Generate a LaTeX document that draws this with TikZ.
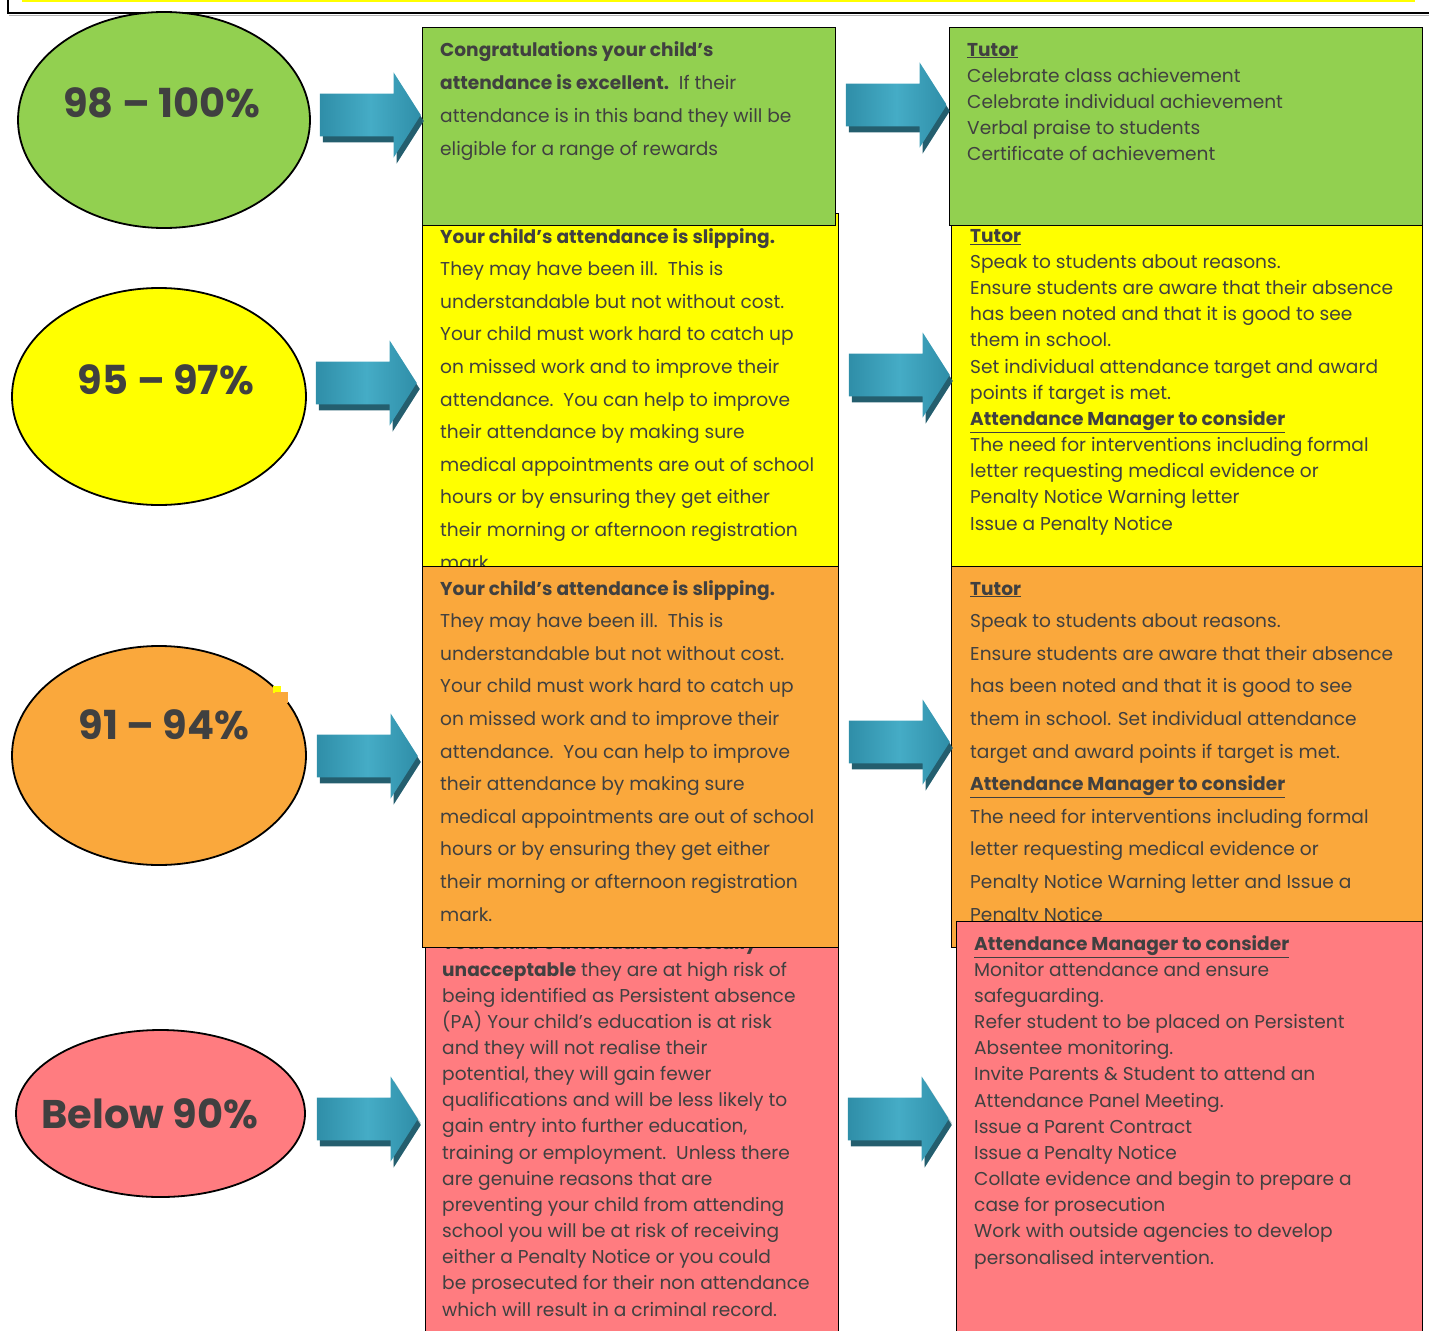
\documentclass[tikz,border=0pt]{standalone}
\usepackage{fontspec}
\setmainfont{Poppins}
\usetikzlibrary{shapes.geometric,shapes.arrows,shadows,positioning}

\definecolor{bandgreen}{HTML}{92D050}
\definecolor{bandyellow}{HTML}{FFFF00}
\definecolor{bandorange}{HTML}{FAA83C}
\definecolor{bandred}{HTML}{FF7C80}
\definecolor{inkgray}{HTML}{404040}
\definecolor{tealmid}{HTML}{45ACC6}
\definecolor{tealedge}{HTML}{2F8EA8}
\definecolor{tealshadow}{HTML}{245E6E}

\tikzset{
  bandbox/.style   = {rectangle, draw=black, line width=1.3pt,
                      anchor=north west, inner sep=0pt},
  rate/.style      = {ellipse, draw=black, line width=1.8pt, inner sep=0pt},
  ratetext/.style  = {anchor=base, inner sep=0pt, text=inkgray,
                      font=\fontsize{40}{48}\selectfont\bfseries},
  % anchor is the baseline of the last line
  note/.style      = {anchor=base west, align=left, inner sep=0pt, text=inkgray},
  notewide/.style  = {note, font=\fontsize{18.6}{32.6}\selectfont},
  notetight/.style = {note, font=\fontsize{18.6}{26.15}\selectfont},
  flowarrow/.style = {single arrow, anchor=tip, inner sep=0pt, inner ysep=21pt,
                      minimum height=101pt, minimum width=85pt,
                      single arrow head extend=21pt,
                      single arrow tip angle=115,
                      left color=tealedge, right color=tealedge, middle color=tealmid,
                      drop shadow={shadow xshift=3pt, shadow yshift=-6pt,
                                   fill=tealshadow, opacity=1}},
  softarrow/.style = {flowarrow,
                      drop shadow={shadow xshift=3pt, shadow yshift=-4pt,
                                   fill=tealshadow, opacity=.35}}
}
\newcommand{\headline}[1]{\underline{\textbf{#1}}}

\begin{document}
\begin{tikzpicture}[x=1pt, y=-1pt]
\useasboundingbox (0,0) rectangle (1429,1330);

% frame at the top
\fill[bandyellow] (22,-3) rectangle (1415,2);
\draw[gray!60, line width=1.5pt] (9,15.5) -- (1440,15.5);
\draw[black, line width=1.3pt] (8,-5) -- (8,13) -- (1440,13);

% attendance bands
\node[rate, fill=bandgreen,  minimum width=292pt, minimum height=216pt] (rate98) at (164,120) {};
\node[rate, fill=bandyellow, minimum width=294pt, minimum height=217pt] (rate95) at (159,396.5) {};
\node[rate, fill=bandorange, minimum width=294pt, minimum height=219pt] (rate91) at (159,755.5) {};
\node[rate, fill=bandred,    minimum width=289pt, minimum height=167pt] (rate90) at (160.5,1113.5) {};
\fill[bandyellow] (273,686) rectangle (281,693);
\fill[bandorange] (275,692) rectangle (288,703);

\node[ratetext] (rate98-text) at (162,117)  {98 -- 100\%};
\node[ratetext] (rate95-text) at (166,394)  {95 -- 97\%};
\node[ratetext] (rate91-text) at (164,739)  {91 -- 94\%};
\node[ratetext] (rate90-text) at (150,1128) {Below 90\%};

% left column: what it means
\node[bandbox, fill=bandyellow, minimum width=416pt, minimum height=353pt] (info95) at (422,213) {};
\node[notewide] (info95-text) at (440,569) {%
  \textbf{Your child’s attendance is slipping.}\\
  They may have been ill.\ \ This is\\
  understandable but not without cost.\\
  Your child must work hard to catch up\\
  on missed work and to improve their\\
  attendance.\ \ You can help to improve\\
  their attendance by making sure\\
  medical appointments are out of school\\
  hours or by ensuring they get either\\
  their morning or afternoon registration\\
  mark.};

\node[bandbox, fill=bandgreen, minimum width=413pt, minimum height=198pt] (info98) at (422,27) {};
\node[note, font=\fontsize{18.6}{33}\selectfont] (info98-text) at (440,155) {%
  \textbf{Congratulations your child’s}\\
  \textbf{attendance is excellent.}\ \ If their\\
  attendance is in this band they will be\\
  eligible for a range of rewards};

\node[bandbox, fill=bandred, minimum width=413pt, minimum height=400pt] (info90) at (425,940) {};
\node[notetight] (info90-text) at (442,1316) {%
  \textbf{Your child’s attendance is totally}\\
  \textbf{unacceptable} they are at high risk of\\
  being identified as Persistent absence\\
  (PA) Your child’s education is at risk\\
  and they will not realise their\\
  potential, they will gain fewer\\
  qualifications and will be less likely to\\
  gain entry into further education,\\
  training or employment.\ \ Unless there\\
  are genuine reasons that are\\
  preventing your child from attending\\
  school you will be at risk of receiving\\
  either a Penalty Notice or you could\\
  be prosecuted for their non attendance\\
  which will result in a criminal record.};

\node[bandbox, fill=bandorange, minimum width=416pt, minimum height=381pt] (info91) at (422,566) {};
\node[notewide] (info91-text) at (440,921) {%
  \textbf{Your child’s attendance is slipping.}\\
  They may have been ill.\ \ This is\\
  understandable but not without cost.\\
  Your child must work hard to catch up\\
  on missed work and to improve their\\
  attendance.\ \ You can help to improve\\
  their attendance by making sure\\
  medical appointments are out of school\\
  hours or by ensuring they get either\\
  their morning or afternoon registration\\
  mark.};

% right column: actions
\node[bandbox, fill=bandgreen, minimum width=473pt, minimum height=198pt] (act98) at (949,27) {};
\node[notetight] (act98-text) at (967,160.6) {%
  \headline{Tutor}\\
  Celebrate class achievement\\
  Celebrate individual achievement\\
  Verbal praise to students\\
  Certificate of achievement};

\node[bandbox, fill=bandyellow, minimum width=471pt, minimum height=341pt] (act95) at (951,225) {};
\node[notetight] (act95-text) at (970,530) {%
  \headline{Tutor}\\
  Speak to students about reasons.\\
  Ensure students are aware that their absence\\
  has been noted and that it is good to see\\
  them in school.\\
  Set individual attendance target and award\\
  points if target is met.\\
  \headline{Attendance Manager to consider}\\
  The need for interventions including formal\\
  letter requesting medical evidence or\\
  Penalty Notice Warning letter\\
  Issue a Penalty Notice};

\node[bandbox, fill=bandorange, minimum width=471pt, minimum height=381pt] (act91) at (951,566) {};
\node[notewide] (act91-text) at (970,921) {%
  \headline{Tutor}\\
  Speak to students about reasons.\\
  Ensure students are aware that their absence\\
  has been noted and that it is good to see\\
  them in school. Set individual attendance\\
  target and award points if target is met.\\
  \headline{Attendance Manager to consider}\\
  The need for interventions including formal\\
  letter requesting medical evidence or\\
  Penalty Notice Warning letter and Issue a\\
  Penalty Notice};

\node[bandbox, fill=bandred, minimum width=466pt, minimum height=420pt] (act90) at (956,921) {};
\node[notetight] (act90-text) at (974,1264) {%
  \headline{Attendance Manager to consider}\\
  Monitor attendance and ensure\\
  safeguarding.\\
  Refer student to be placed on Persistent\\
  Absentee monitoring.\\
  Invite Parents \& Student to attend an\\
  Attendance Panel Meeting.\\
  Issue a Parent Contract\\
  Issue a Penalty Notice\\
  Collate evidence and begin to prepare a\\
  case for prosecution\\
  Work with outside agencies to develop\\
  personalised intervention.};

% arrows between band, meaning and action
\node[flowarrow] (step98a) at (421,115)  {};
\node[flowarrow] (step98b) at (947,105)  {};
\node[flowarrow] (step95a) at (417,383)  {};
\node[flowarrow] (step95b) at (950,375)  {};
\node[flowarrow] (step91a) at (418,756)  {};
\node[flowarrow] (step91b) at (950,742)  {};
\node[softarrow] (step90a) at (418,1119) {};
\node[softarrow] (step90b) at (949,1119) {};
\end{tikzpicture}
\end{document}
